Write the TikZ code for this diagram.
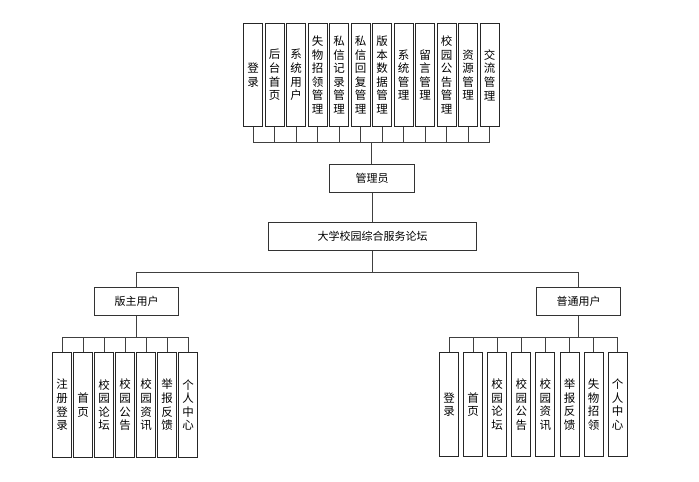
\documentclass[tikz,border=0pt]{standalone}
\usepackage{fontspec}
\newfontfamily\cjk{Noto Sans CJK SC}
\begin{document}
\begin{tikzpicture}[x=1pt,y=-1pt,
  vbox/.style={draw=black!85,line width=1pt,minimum width=19pt,minimum height=103pt,inner sep=0pt,align=center,anchor=north west,font=\cjk\fontsize{11.5}{13.6}\selectfont},
  hbox/.style={draw=black!80,line width=1pt,inner sep=0pt,anchor=north west,font=\cjk\fontsize{11}{13}\selectfont},
  conn/.style={draw=black!75,line width=0.9pt}]
\useasboundingbox (0,0) rectangle (699,482);
% top row
\foreach \t [count=\i] in {登\\录,后\\台\\首\\页,系\\统\\用\\户,失\\物\\招\\领\\管\\理,私\\信\\记\\录\\管\\理,私\\信\\回\\复\\管\\理,版\\本\\数\\据\\管\\理,系\\统\\管\\理,留\\言\\管\\理,校\\园\\公\\告\\管\\理,资\\源\\管\\理,交\\流\\管\\理}{
  \node[vbox] (t\i) at ({243+21.5*(\i-1)},23) {\t};
}
\node[hbox,minimum width=85pt,minimum height=28pt] (admin) at (329,164) {管理员};
\node[hbox,minimum width=208pt,minimum height=28pt] (main) at (268,222) {大学校园综合服务论坛};
\node[hbox,minimum width=84pt,minimum height=28pt] (ban) at (94,287) {版主用户};
\node[hbox,minimum width=84pt,minimum height=28pt] (pu) at (536,287) {普通用户};
% bottom left
\foreach \t [count=\i] in {注\\册\\登\\录,首\\页,校\\园\\论\\坛,校\\园\\公\\告,校\\园\\资\\讯,举\\报\\反\\馈,个\\人\\中\\心}{
  \node[vbox,minimum height=105pt] (l\i) at ({52+21*(\i-1)},352) {\t};
}
% bottom right
\foreach \t [count=\i] in {登\\录,首\\页,校\\园\\论\\坛,校\\园\\公\\告,校\\园\\资\\讯,举\\报\\反\\馈,失\\物\\招\\领,个\\人\\中\\心}{
  \node[vbox,minimum height=104pt] (r\i) at ({439+24.1*(\i-1)},352) {\t};
}
% connectors top
\coordinate (tbus) at (371.5,142);
\foreach \i in {1,...,12}{ \draw[conn] (t\i.south) -- (t\i.south |- tbus); }
\draw[conn] (t1.south |- tbus) -- (t12.south |- tbus);
\draw[conn] (tbus) -- (tbus |- admin.north);
\draw[conn] (admin.south) -- (admin.south |- main.north);
\coordinate (mbus) at (372,272);
\draw[conn] (main.south) -- (main.south |- mbus);
\draw[conn] (ban.north |- mbus) -- (pu.north |- mbus);
\draw[conn] (ban.north |- mbus) -- (ban.north);
\draw[conn] (pu.north |- mbus) -- (pu.north);
% bottom left connectors
\coordinate (lbus) at (137,337);
\draw[conn] (ban.south) -- (ban.south |- lbus);
\foreach \i in {1,...,7}{ \draw[conn] (l\i.north) -- (l\i.north |- lbus); }
\draw[conn] (l1.north |- lbus) -- (l7.north |- lbus);
% bottom right connectors
\coordinate (rbus) at (577,337);
\draw[conn] (pu.south) -- (pu.south |- rbus);
\foreach \i in {1,...,8}{ \draw[conn] (r\i.north) -- (r\i.north |- rbus); }
\draw[conn] (r1.north |- rbus) -- (r8.north |- rbus);
\end{tikzpicture}
\end{document}
